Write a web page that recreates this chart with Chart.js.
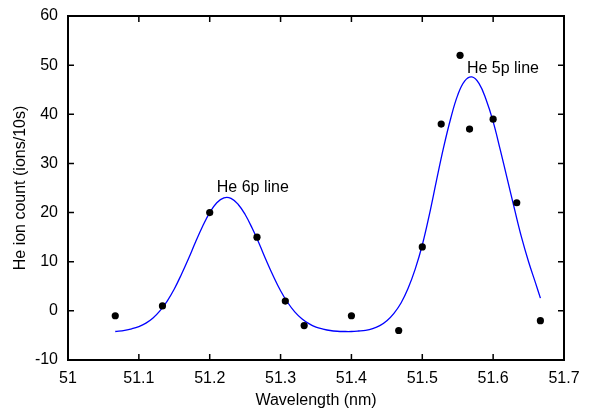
<!DOCTYPE html>
<html>
<head>
<meta charset="utf-8">
<title>He ion count vs wavelength</title>
<script src="https://cdn.jsdelivr.net/npm/chart.js@4/dist/chart.umd.min.js"></script>
<style>
  html, body { margin: 0; padding: 0; background: #fff; }
  canvas { display: block; }
</style>
</head>
<body>
<canvas id="chart" width="589" height="410"></canvas>
<script>
// Measured He ion counts per 10 s at each wavelength setting
const wavelengths = [51.0667, 51.1333, 51.2, 51.2667, 51.3067, 51.3333, 51.4, 51.4667,
                     51.5, 51.5267, 51.5533, 51.5667, 51.6, 51.6333, 51.6667];
const counts = [-1, 1, 20, 15, 2, -3, -1, -4, 13, 38, 52, 37, 39, 22, -2];

// Fitted two-peak profile (6p and 5p lines on a flat background)
const fitWavelengths = [51.0667, 51.08, 51.09, 51.10, 51.11, 51.12, 51.13, 51.14, 51.15, 51.16,
                        51.17, 51.18, 51.19, 51.20, 51.21, 51.22, 51.23, 51.24, 51.25, 51.26,
                        51.27, 51.28, 51.29, 51.30, 51.31, 51.32, 51.33, 51.34, 51.35, 51.36,
                        51.37, 51.38, 51.39, 51.40, 51.41, 51.42, 51.43, 51.44, 51.45, 51.46,
                        51.47, 51.48, 51.49, 51.50, 51.51, 51.52, 51.53, 51.54, 51.55, 51.56,
                        51.57, 51.58, 51.59, 51.60, 51.61, 51.62, 51.63, 51.64, 51.65, 51.66,
                        51.6667];
const fitCounts = [-4.2, -3.95, -3.65, -3.2, -2.5, -1.45, 0.05, 2.0, 4.45, 7.4,
                   10.6, 14.0, 17.2, 20.0, 22.0, 23.0, 22.9, 21.7, 19.6, 16.8,
                   13.6, 10.2, 7.0, 4.1, 1.7, -0.2, -1.6, -2.6, -3.3, -3.7,
                   -4.0, -4.15, -4.2, -4.2, -4.1, -3.95, -3.6, -3.0, -2.0, -0.5,
                   1.6, 4.6, 8.5, 13.4, 19.6, 26.5, 33.2, 39.1, 43.9, 46.8,
                   47.6, 46.3, 43.0, 38.5, 32.8, 26.8, 20.8, 15.0, 10.0, 5.6,
                   2.6];

// Axis ticks
const xTickValues = [51, 51.1, 51.2, 51.3, 51.4, 51.5, 51.6, 51.7];
const xTickLabels = ['51', '51.1', '51.2', '51.3', '51.4', '51.5', '51.6', '51.7'];
const yTickValues = [-10, 0, 10, 20, 30, 40, 50, 60];
const yTickLabels = ['-10', '0', '10', '20', '30', '40', '50', '60'];

// Peak annotations (anchored in data units)
const peakNames = ['He 6p line', 'He 5p line'];
const peakNameX = [51.21, 51.563];
const peakNameY = [25, 49.3];

const FONT = 'Liberation Sans, Arial, Helvetica, sans-serif';
Chart.defaults.color = '#000';
Chart.defaults.font.family = FONT;
Chart.defaults.font.size = 16;

// Closed frame with inward tick marks on all four sides, plus peak labels
const framePlugin = {
  id: 'frame',
  afterDatasetsDraw(chart) {
    const { ctx, chartArea: a, scales: { x, y } } = chart;
    const len = 6;
    ctx.save();
    ctx.strokeStyle = '#000';
    ctx.lineWidth = 1.5;
    ctx.beginPath();
    x.ticks.forEach(t => {
      const px = x.getPixelForValue(t.value);
      ctx.moveTo(px, a.bottom); ctx.lineTo(px, a.bottom - len);
      ctx.moveTo(px, a.top); ctx.lineTo(px, a.top + len);
    });
    y.ticks.forEach(t => {
      const py = y.getPixelForValue(t.value);
      ctx.moveTo(a.left, py); ctx.lineTo(a.left + len, py);
      ctx.moveTo(a.right, py); ctx.lineTo(a.right - len, py);
    });
    ctx.stroke();
    ctx.lineWidth = 2;
    ctx.strokeRect(a.left, a.top, a.right - a.left, a.bottom - a.top);

    ctx.fillStyle = '#000';
    ctx.font = '16px ' + FONT;
    ctx.textAlign = 'left';
    ctx.textBaseline = 'middle';
    peakNames.forEach((name, i) => {
      ctx.fillText(name, x.getPixelForValue(peakNameX[i]), y.getPixelForValue(peakNameY[i]));
    });
    ctx.restore();
  }
};

new Chart(document.getElementById('chart'), {
  type: 'scatter',
  data: {
    datasets: [
      {
        label: 'Measured',
        data: wavelengths.map((w, i) => ({ x: w, y: counts[i] })),
        pointRadius: 3.6,
        pointBackgroundColor: '#000',
        pointBorderColor: '#000',
        pointBorderWidth: 0,
        showLine: false
      },
      {
        label: 'Fit',
        data: fitWavelengths.map((w, i) => ({ x: w, y: fitCounts[i] })),
        showLine: true,
        borderColor: '#0000ff',
        borderWidth: 1.3,
        pointRadius: 0,
        tension: 0.4,
        fill: false
      }
    ]
  },
  options: {
    responsive: false,
    devicePixelRatio: 1,
    animation: false,
    layout: { padding: { top: 16, right: 25, left: 0, bottom: 0 } },
    plugins: { legend: { display: false }, tooltip: { enabled: false } },
    scales: {
      x: {
        type: 'linear',
        min: 51,
        max: 51.7,
        grid: { display: false, drawTicks: false },
        border: { display: false },
        afterBuildTicks: s => { s.ticks = xTickValues.map(v => ({ value: v })); },
        afterFit: s => { s.height = 50; s.paddingLeft = 0; s.paddingRight = 0; },
        ticks: {
          padding: 9,
          maxRotation: 0,
          autoSkip: false,
          callback: (v, i) => xTickLabels[i]
        },
        title: {
          display: true,
          text: 'Wavelength (nm)',
          padding: { top: 0, bottom: 0 }
        }
      },
      y: {
        type: 'linear',
        min: -10,
        max: 60,
        grid: { display: false, drawTicks: false },
        border: { display: false },
        afterBuildTicks: s => { s.ticks = yTickValues.map(v => ({ value: v })); },
        afterFit: s => { s.width = 68; s.paddingTop = 0; s.paddingBottom = 0; },
        ticks: {
          padding: 10,
          autoSkip: false,
          callback: (v, i) => yTickLabels[i]
        },
        title: {
          display: true,
          text: 'He ion count (ions/10s)',
          padding: { top: 11, bottom: 0 }
        }
      }
    }
  },
  plugins: [framePlugin]
});
</script>
</body>
</html>
